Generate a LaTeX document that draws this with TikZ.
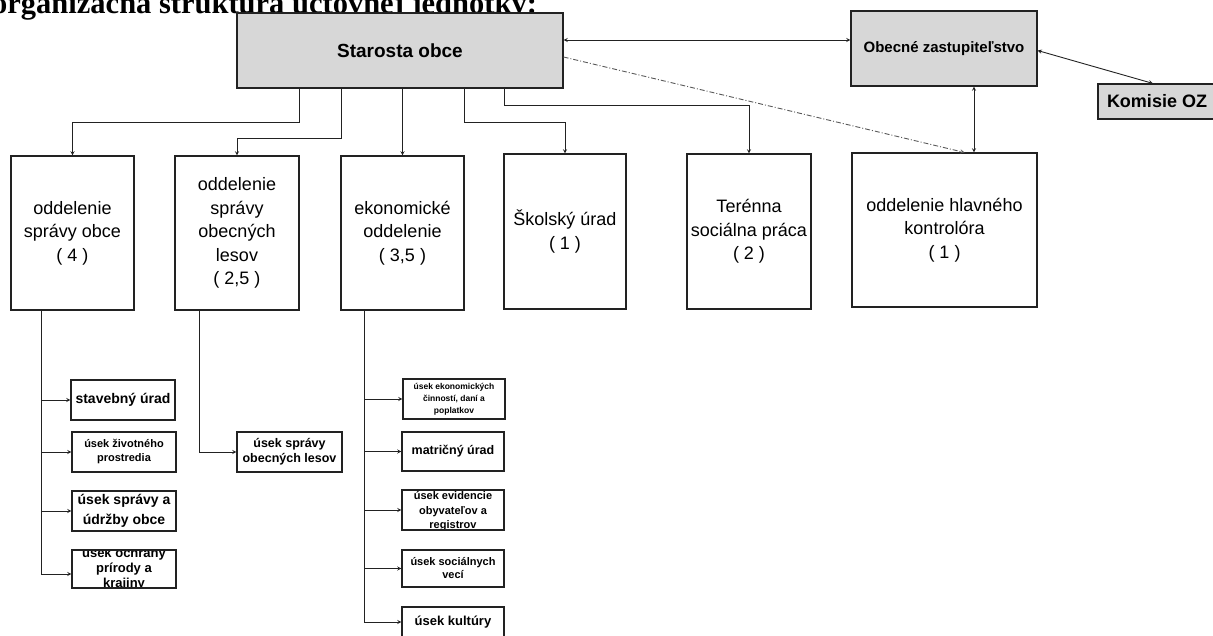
\documentclass[tikz,border=0pt]{standalone}
\usepackage{fontspec}
\setmainfont{Liberation Sans}
\newfontfamily\titlefont{Liberation Serif}
\definecolor{boxgray}{HTML}{D7D7D7}
\definecolor{linegray}{HTML}{222222}
\tikzset{
	graybox/.style={draw=linegray, line width=1.1pt, fill=boxgray, inner sep=1pt, align=center},
	deptbox/.style={draw=linegray, line width=1.1pt, fill=white, inner sep=1pt, align=center, minimum height=154pt, font=\fontsize{18}{23.5}\selectfont},
	subbox/.style={draw=linegray, line width=1.1pt, fill=white, inner sep=1pt, align=center, minimum width=104pt, minimum height=40pt},
	link/.style={draw=linegray, line width=0.9pt},
}
\begin{document}
\begin{tikzpicture}[x=1pt, y=-1pt]
	\useasboundingbox (0,0) rectangle (1213,635);
	\node[anchor=base west, inner sep=0pt, font=\titlefont\bfseries\fontsize{30.5}{30.5}\selectfont] (title) at (-8,13.5) {organizačná štruktúra účtovnej jednotky:};

	\node[graybox, minimum width=326pt, minimum height=75pt, font=\bfseries\fontsize{19}{22}\selectfont] (starosta) at (400,50.5) {Starosta obce};
	\node[graybox, minimum width=186pt, minimum height=75pt, font=\bfseries\fontsize{15}{18}\selectfont] (zastup) at (944,48.5) {Obecné zastupiteľstvo};
	\node[graybox, minimum width=118pt, minimum height=35pt, font=\bfseries\fontsize{18}{21}\selectfont] (komisie) at (1157,101.5) {Komisie OZ};

	\node[deptbox, minimum width=123pt] (odd1) at (72.5,233) {oddelenie\\správy obce\\( 4 )};
	\node[deptbox, minimum width=124pt] (odd2) at (237,233) {oddelenie\\správy\\obecných\\lesov\\( 2,5 )};
	\node[deptbox, minimum width=123pt] (ekon) at (402.5,233) {ekonomické\\oddelenie\\( 3,5 )};
	\node[deptbox, minimum width=122pt, minimum height=155pt] (skolsky) at (565,231.5) {Školský úrad\\( 1 )};
	\node[deptbox, minimum width=124pt, minimum height=155pt] (terenna) at (749,231.5) {Terénna\\sociálna práca\\( 2 )};
	\node[deptbox, minimum width=185pt] (kontrola) at (944.5,230) {oddelenie hlavného\\kontrolóra\\( 1 )};

	\node[subbox, font=\bfseries\fontsize{14}{17}\selectfont] (stavebny) at (123,400) {stavebný úrad};
	\node[subbox, font=\bfseries\fontsize{11}{14}\selectfont] (zivotne) at (124,452) {úsek životného\\prostredia};
	\node[subbox, font=\bfseries\fontsize{14}{20}\selectfont] (udrzba) at (124,511) {úsek správy a\\údržby obce};
	\node[subbox, minimum height=38pt, path picture={
		\node[align=center, font=\bfseries\fontsize{13}{15}\selectfont] at (path picture bounding box.center) {úsek ochrany\\prírody a\\krajiny};
	}] (ochrana) at (124,569) {};

	\node[subbox, minimum width=105pt, font=\bfseries\fontsize{12.5}{15}\selectfont] (lesy) at (289.5,452) {úsek správy\\obecných lesov};

	\node[subbox, minimum width=102pt, font=\bfseries\fontsize{8.5}{12}\selectfont] (cinnosti) at (454,399) {úsek ekonomických\\činností, daní a\\poplatkov};
	\node[subbox, minimum width=102pt, minimum height=39pt, font=\bfseries\fontsize{12.5}{15}\selectfont] (matrika) at (453,451.5) {matričný úrad};
	\node[subbox, minimum width=102pt, path picture={
		\node[align=center, font=\bfseries\fontsize{11}{14.5}\selectfont] at ([yshift=-1.5pt]path picture bounding box.center) {úsek evidencie\\obyvateľov a\\registrov};
	}] (evidencia) at (453,510) {};
	\node[subbox, minimum width=102pt, minimum height=37pt, font=\bfseries\fontsize{11}{13}\selectfont] (socialne) at (453,568.5) {úsek sociálnych\\vecí};
	\node[subbox, minimum width=102pt, minimum height=30pt, font=\bfseries\fontsize{13}{15}\selectfont] (kultura) at (453,622) {úsek kultúry};

	\draw[link, -stealth] ([xshift=-101pt]starosta.south) -- ++(0,34) -| (odd1.north);
	\draw[link, -stealth] ([xshift=-59pt]starosta.south) -- ++(0,50) -| (odd2.north);
	\draw[link, -stealth] (starosta.south -| ekon.north) -- (ekon.north);
	\draw[link, -stealth] ([xshift=64pt]starosta.south) -- ++(0,34) -| (skolsky.north);
	\draw[link, -stealth] ([xshift=104pt]starosta.south) -- ++(0,17) -| (terenna.north);

	\draw[link, stealth-stealth] ([yshift=10.5pt]starosta.east) -- ([yshift=10.5pt]starosta.east -| zastup.west);
	\draw[link, stealth-stealth] ([yshift=-2pt]zastup.east) -- ([xshift=-4pt]komisie.north);
	\draw[link, stealth-stealth] ([xshift=30pt]zastup.south) -- ([xshift=30pt]zastup.south |- kontrola.north);
	\draw[link, draw=black!65, line width=0.9pt, dash pattern=on 5pt off 2pt on 1pt off 2pt, -stealth] ([yshift=-6.5pt]starosta.east) -- ([xshift=20pt]kontrola.north);

	\foreach \sub in {stavebny,zivotne,udrzba}
		\draw[link, -stealth] ([xshift=-31.5pt]odd1.south) |- (\sub.west);
	\draw[link, -stealth] ([xshift=-31.5pt]odd1.south) |- ([yshift=-5pt]ochrana.west);
	\draw[link, -stealth] ([xshift=-38pt]odd2.south) |- (lesy.west);
	\foreach \sub in {cinnosti,matrika,evidencia,socialne,kultura}
		\draw[link, -stealth] ([xshift=-38.5pt]ekon.south) |- (\sub.west);
\end{tikzpicture}
\end{document}
